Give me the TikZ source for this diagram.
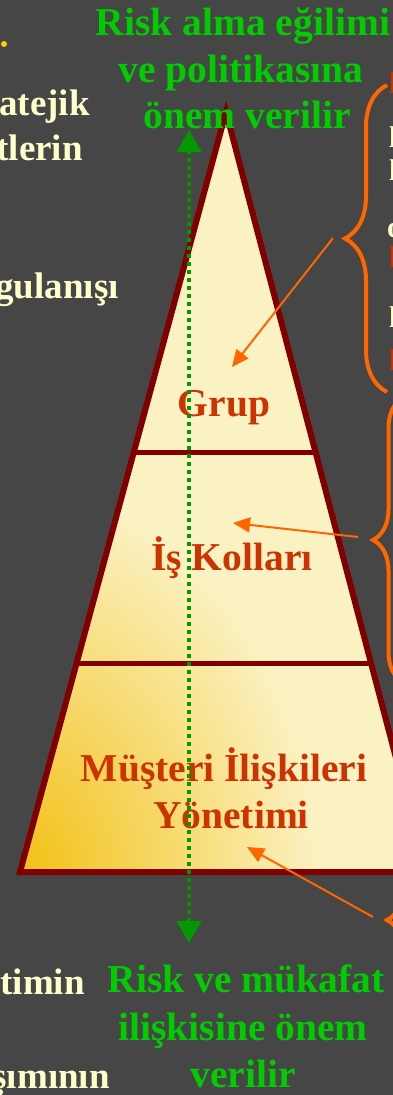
\documentclass[tikz,border=0pt]{standalone}
\usepackage{fontspec}
\setmainfont{Liberation Serif}
\usetikzlibrary{arrows.meta,decorations.pathreplacing,calc}
\definecolor{bg}{RGB}{70,70,70}
\definecolor{pyrline}{RGB}{128,0,0}
\definecolor{pyrgold}{RGB}{242,192,20}
\definecolor{pyrcream}{RGB}{251,242,196}
\definecolor{txtred}{RGB}{204,51,0}
\definecolor{txtgreen}{RGB}{0,204,0}
\definecolor{arrgreen}{RGB}{0,153,0}
\definecolor{brorange}{RGB}{255,102,0}
\definecolor{cream}{RGB}{255,255,204}
\definecolor{dotgold}{RGB}{255,204,0}
\begin{document}
\begin{tikzpicture}[x=1pt,y=-1pt,
  greentext/.style={font=\fontsize{39.5}{46}\selectfont\bfseries, text=txtgreen, inner sep=0, anchor=base},
  levellabel/.style={font=\fontsize{39.5}{46}\selectfont\bfseries, text=txtred, inner sep=0, anchor=base},
  creamtext/.style={font=\fontsize{37}{42}\selectfont\bfseries, text=cream, inner sep=0, anchor=base east},
  edgetext/.style={font=\fontsize{30}{36}\selectfont\bfseries, inner sep=0, anchor=base west},
  pointer/.style={draw=brorange, line width=2pt, -{Triangle[length=17pt,width=15pt]}},
  bracebar/.style={draw=brorange, line width=4pt, decorate, decoration={brace, amplitude=#1}},
  levelline/.style={draw=pyrline, line width=5pt},
]
\useasboundingbox (0,0) rectangle (393,1095);
\fill[bg] (0,0) rectangle (393,1095);
\clip (0,0) rectangle (393,1095);

% pyramid
\coordinate (apex) at (226,112);
\coordinate (bl) at (20,872);
\coordinate (br) at (426,872);
\begin{scope}
  \clip (apex) -- (bl) -- (br) -- cycle;
  \fill[pyrcream] (0,100) rectangle (500,900);
  \shade[inner color=pyrgold, outer color=pyrcream] (20,872) ellipse [x radius=300, y radius=380];
\end{scope}
\coordinate (l1) at ($(apex)!0.4474!(bl)$);
\coordinate (r1) at ($(apex)!0.4474!(br)$);
\coordinate (l2) at ($(apex)!0.725!(bl)$);
\coordinate (r2) at ($(apex)!0.725!(br)$);
\draw[levelline] (l1) -- (r1);
\draw[levelline] (l2) -- (r2);
\draw[draw=pyrline, line width=6pt, line join=miter, miter limit=20] (apex) -- (bl) -- (br) -- cycle;

% level labels
\node[levellabel] (grup) at (224,416) {Grup};
\node[levellabel] (iskol) at (232,570) {İş Kolları};
\node[levellabel] (musA) at (224,781) {Müşteri İlişkileri};
\node[levellabel] (musB) at (231,828) {Yönetimi};

% braces
\draw[bracebar=42pt] (387,392) -- (387,85);
\draw[bracebar=31pt] (404,683) -- (404,397);
\draw[bracebar=33pt] (420,1000) -- (420,840);

% orange pointers
\coordinate (b1) at (333,238);
\coordinate (t1) at (232,367);
\coordinate (b2) at (358,537);
\coordinate (t2) at (233,523);
\coordinate (b3) at (373,917);
\coordinate (t3) at (247,847);
\draw[pointer] (b1) -- (t1);
\draw[pointer] (b2) -- (t2);
\draw[pointer] (b3) -- (t3);

% green dotted double arrow
\coordinate (gtop) at (189,130);
\coordinate (gbot) at (189,943);
\draw[arrgreen, line width=4pt, dash pattern=on 4pt off 4pt,
  {Triangle[length=22pt,width=24pt]}-{Triangle[length=22pt,width=24pt]}] (gbot) -- (gtop);

% green texts
\node[greentext] (topA) at (243,35) {Risk alma eğilimi};
\node[greentext] (topB) at (241,82) {ve politikasına};
\node[greentext] (topC) at (247,128) {önem verilir};
\node[greentext] (botA) at (246,992) {Risk ve mükafat};
\node[greentext] (botB) at (243,1040) {ilişkisine önem};
\node[greentext] (botC) at (243,1087) {verilir};

% left cut texts
\fill[dotgold] (4,44) circle (3);
\node[creamtext] (lA) at (90,115) {atejik};
\node[creamtext] (lB) at (83,160) {tlerin};
\node[creamtext] (lC) at (119,298) {gulanışı};
\node[creamtext] (lD) at (85,994) {timin};
\node[creamtext] (lE) at (110,1088) {şımının};

% right cut texts
\node[edgetext, text=txtred] (rA) at (389,93) {l};
\node[edgetext, text=cream] (rB) at (389,147) {l};
\node[edgetext, text=cream] (rC) at (389,180) {l};
\node[edgetext, text=cream] (rD) at (387,237) {o};
\node[edgetext, text=txtred] (rE) at (389,267) {l};
\node[edgetext, text=cream] (rF) at (389,327) {l};
\node[edgetext, text=txtred] (rG) at (389,370) {l};
\end{tikzpicture}
\end{document}
